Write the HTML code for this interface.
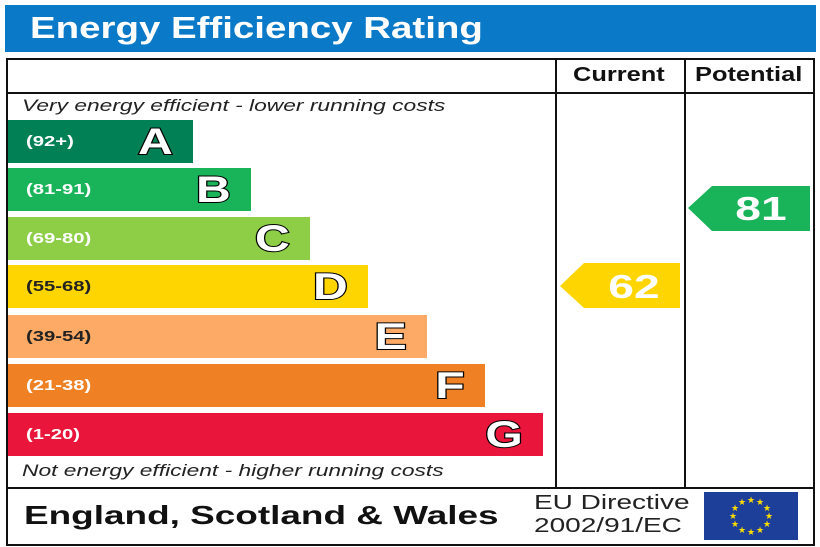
<!DOCTYPE html>
<html><head><meta charset="utf-8"><style>
body{margin:0;width:820px;height:547px;background:#fff;position:relative;overflow:hidden;font-family:"Liberation Sans",sans-serif}
.a{position:absolute}
.sx{transform-origin:left center;white-space:nowrap}
.bar{position:absolute;left:8px;height:43px}
.rng{position:absolute;left:18px;top:13px;font-size:15px;font-weight:bold;color:#fff;transform:scaleX(1.35);transform-origin:left center;white-space:nowrap}
.bar.d .rng,.bar.e .rng{color:#222}
.let{position:absolute;right:20px;top:0;font-size:37px;font-weight:bold;color:#fff;-webkit-text-stroke:2px #000;paint-order:stroke fill;line-height:43px;transform:scaleX(1.3);transform-origin:right center}
</style></head><body>
<div class="a" style="left:5px;top:5px;width:811px;height:47px;background:#0a79c8"></div>
<div class="a sx" style="left:30px;top:10px;font-size:31px;font-weight:bold;color:#fff;transform:scaleX(1.24)">Energy Efficiency Rating</div>
<div class="a" style="left:6px;top:58px;width:805px;height:484px;border:2px solid #111"></div>
<div class="a" style="left:8px;top:92px;width:805px;height:2px;background:#111"></div>
<div class="a" style="left:8px;top:487px;width:805px;height:2px;background:#111"></div>
<div class="a" style="left:555px;top:60px;width:2px;height:428px;background:#111"></div>
<div class="a" style="left:684px;top:60px;width:2px;height:428px;background:#111"></div>
<div class="a sx" style="left:573px;top:64px;font-size:20px;font-weight:bold;color:#111;transform:scaleX(1.27)">Current</div>
<div class="a sx" style="left:695px;top:64px;font-size:20px;font-weight:bold;color:#111;transform:scaleX(1.27)">Potential</div>
<div class="a sx" style="left:22px;top:96px;font-size:17px;font-style:italic;color:#222;transform:scaleX(1.34)">Very energy efficient - lower running costs</div>
<div class="a sx" style="left:22px;top:461px;font-size:17px;font-style:italic;color:#222;transform:scaleX(1.34)">Not energy efficient - higher running costs</div>
<div class="bar" style="top:120px;width:185px;background:#008054"><span class="rng">(92+)</span><span class="let">A</span></div>
<div class="bar" style="top:168px;width:243px;background:#19b459"><span class="rng">(81-91)</span><span class="let">B</span></div>
<div class="bar" style="top:217px;width:302px;background:#8dce46"><span class="rng">(69-80)</span><span class="let">C</span></div>
<div class="bar d" style="top:265px;width:360px;background:#ffd500"><span class="rng">(55-68)</span><span class="let">D</span></div>
<div class="bar e" style="top:315px;width:419px;background:#fcaa65"><span class="rng">(39-54)</span><span class="let">E</span></div>
<div class="bar" style="top:364px;width:477px;background:#ef8023"><span class="rng">(21-38)</span><span class="let">F</span></div>
<div class="bar" style="top:413px;width:535px;background:#e9153b"><span class="rng">(1-20)</span><span class="let">G</span></div>
<svg class="a" style="left:0;top:0" width="820" height="547">
<polygon points="560,286 584,263 680,263 680,308 584,308" fill="#ffd500"/>
<text x="634" y="298" font-family="Liberation Sans" font-weight="bold" font-size="33" fill="#fff" text-anchor="middle" transform="translate(634 0) scale(1.4 1) translate(-634 0)">62</text>
<polygon points="688,208 712,186 810,186 810,231 712,231" fill="#19b459"/>
<text x="761" y="220" font-family="Liberation Sans" font-weight="bold" font-size="33" fill="#fff" text-anchor="middle" transform="translate(761 0) scale(1.4 1) translate(-761 0)">81</text>
<rect x="704" y="492" width="94" height="48" fill="#1d3f9a"/>
<g fill="#ffdd00" font-size="9" font-family="DejaVu Sans" text-anchor="middle">
<text x="751" y="503">★</text><text x="760" y="505">★</text><text x="767" y="511">★</text><text x="769" y="519">★</text><text x="767" y="527">★</text><text x="760" y="533">★</text><text x="751" y="535">★</text><text x="742" y="533">★</text><text x="735" y="527">★</text><text x="733" y="519">★</text><text x="735" y="511">★</text><text x="742" y="505">★</text>
</g>
</svg>
<div class="a sx" style="left:24px;top:500px;font-size:26px;font-weight:bold;color:#111;transform:scaleX(1.42)">England, Scotland &amp; Wales</div>
<div class="a sx" style="left:534px;top:492px;font-size:20px;color:#222;line-height:23px;transform:scaleX(1.4)">EU Directive<br>2002/91/EC</div>
</body></html>
